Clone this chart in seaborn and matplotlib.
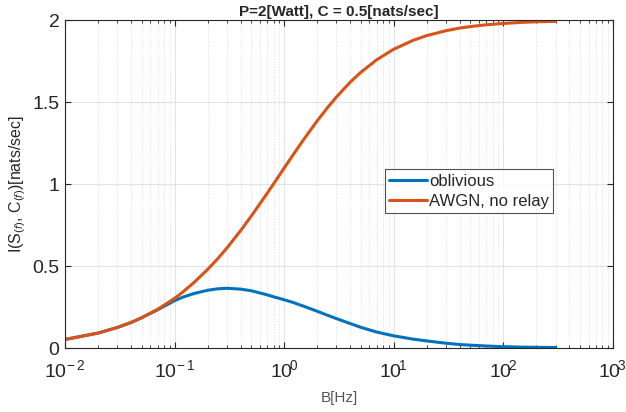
# P=2[Watt], C=0.5 下的互信息随带宽变化
import numpy as np
import pandas as pd
import matplotlib
matplotlib.use("Agg")
import matplotlib.pyplot as plt
import seaborn as sns

# 数据
bandwidth = [0.01, 0.02, 0.03, 0.04, 0.05, 0.07, 0.1, 0.12, 0.15, 0.2, 0.25, 0.3,
             0.4, 0.5, 0.7, 0.8, 1, 1.2, 1.5, 2, 2.5, 3, 4, 5, 7, 10, 15, 20,
             30, 40, 50, 70, 100, 150, 200, 300]
awgn_no_relay = [0.053, 0.092, 0.126, 0.157, 0.186, 0.237, 0.304, 0.345, 0.400,
                 0.480, 0.549, 0.611, 0.717, 0.805, 0.945, 1.002, 1.099, 1.177,
                 1.271, 1.386, 1.469, 1.532, 1.622, 1.682, 1.759, 1.823, 1.877,
                 1.906, 1.936, 1.952, 1.961, 1.972, 1.980, 1.987, 1.990, 1.993]
oblivious = [0.053, 0.092, 0.126, 0.156, 0.185, 0.234, 0.290, 0.312, 0.333,
             0.353, 0.362, 0.365, 0.360, 0.350, 0.325, 0.313, 0.295, 0.279,
             0.256, 0.225, 0.200, 0.180, 0.150, 0.127, 0.098, 0.075, 0.055,
             0.044, 0.030, 0.022, 0.018, 0.013, 0.009, 0.006, 0.005, 0.004]
series_names = ["oblivious", "AWGN, no relay"]
x_ticks = [1e-2, 1e-1, 1e0, 1e1, 1e2, 1e3]
x_tick_labels = [r"$10^{\!-2}$", r"$10^{\!-1}$", r"$10^{\!0}$", r"$10^{\!1}$",
                 r"$10^{\!2}$", r"$10^{\!3}$"]
y_ticks = [0, 0.5, 1, 1.5, 2]
y_tick_labels = ["0", "0.5", "1", "1.5", "2"]

df = pd.DataFrame({
    "B": bandwidth * 2,
    "I": oblivious + awgn_no_relay,
    "series": [series_names[0]] * len(bandwidth) + [series_names[1]] * len(bandwidth),
})

sns.set_style("ticks")
plt.rcParams["font.family"] = ["Liberation Sans", "DejaVu Sans"]
plt.rcParams["mathtext.fontset"] = "custom"
plt.rcParams["mathtext.rm"] = "Liberation Sans"
plt.rcParams["mathtext.it"] = "Liberation Sans:italic"

fig = plt.figure(figsize=(6.26, 4.12), dpi=100)
ax = fig.add_axes([0.104, 0.155, 0.875, 0.796])

sns.lineplot(data=df, x="B", y="I", hue="series", palette=["#0072BD", "#D95319"],
             linewidth=2.2, ax=ax)

ax.set_xscale("log")
ax.set_xlim(1e-2, 1e3)
ax.set_ylim(0, 2)
ax.set_xticks(x_ticks)
ax.set_xticklabels(x_tick_labels)
ax.set_yticks(y_ticks)
ax.set_yticklabels(y_tick_labels)

# MATLAB 风格的网格和刻度
ax.grid(True, which="major", color="#e3e3e3", linewidth=0.8)
ax.grid(True, which="minor", axis="x", color="#dddddd", linestyle=":", linewidth=0.7)
ax.tick_params(which="both", direction="in", top=True, right=True, colors="#262626")
ax.tick_params(which="major", length=4)
ax.tick_params(which="minor", length=2.5)
ax.tick_params(axis="x", labelsize=14, pad=8)
ax.tick_params(axis="y", labelsize=14, pad=4)
for s in ax.spines.values():
    s.set_color("#262626")
    s.set_linewidth(0.8)

ax.set_title("P=2[Watt], C = 0.5[nats/sec]", fontsize=11, fontweight="bold", pad=3)
ax.set_xlabel("B[Hz]", fontsize=11, color="#555555", labelpad=7)
ax.set_ylabel(r"I(S$_{(f)}$, C$_{(f)}$)[nats/sec]", fontsize=11.5, color="#262626",
              labelpad=3)

leg = ax.legend(loc="upper left", bbox_to_anchor=(0.584, 0.545), fontsize=12,
                frameon=True, fancybox=False, borderpad=0.25, handlelength=2.3,
                handletextpad=0.1, labelspacing=0.3, borderaxespad=0)
leg.get_frame().set_edgecolor("#262626")
leg.get_frame().set_linewidth(0.8)

fig.savefig("out.png", dpi=100)
